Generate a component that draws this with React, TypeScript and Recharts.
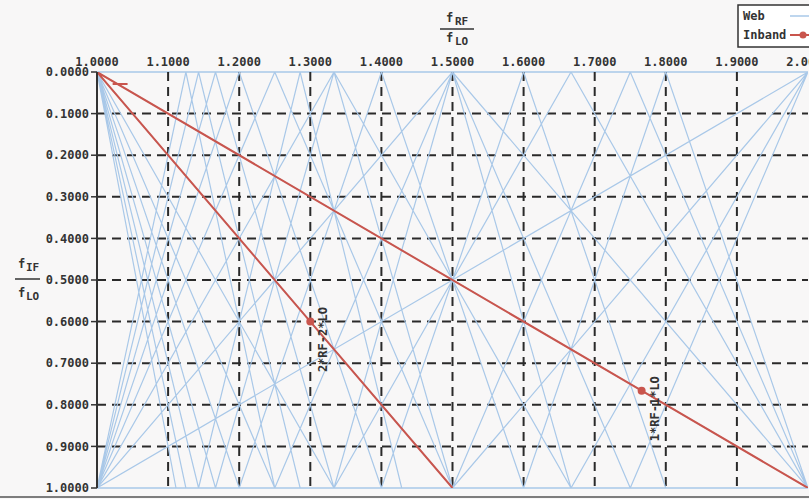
import { LineChart, Line, XAxis, YAxis, ReferenceLine } from 'recharts'

// f_RF / f_LO ticks and f_IF / f_LO ticks
const xTicks = [1.0, 1.1, 1.2, 1.3, 1.4, 1.5, 1.6, 1.7, 1.8, 1.9, 2.0]
const yTicks = [0, 0.1, 0.2, 0.3, 0.4, 0.5, 0.6, 0.7, 0.8, 0.9, 1.0]

// spur orders drawn in the web: |m*RF - n*LO| = IF
const rfOrders = [1, 2, 3, 4, 5, 6, 7, 8, 9]
const loOrders = [1, 2, 3, 4, 5, 6, 7, 8, 9]

// inband spur segments (x = RF/LO, y = IF/LO)
const inbandSegments = [
  [{ x: 1.0, y: 0 }, { x: 1.766, y: 0.766, label: '1*RF-1*LO' }, { x: 2.0, y: 1.0 }],
  [{ x: 1.0, y: 0 }, { x: 1.3, y: 0.6, label: '2*RF-2*LO' }, { x: 1.5, y: 1.0 }],
  [{ x: 1.022, y: 0.029 }, { x: 1.043, y: 0.029 }],
]

type Pt = { x: number; y: number | null; label?: string }

const webData: Pt[] = []
rfOrders.forEach(m => {
  loOrders.forEach(n => {
    ;[1, -1].forEach(s => {
      const x0 = s === 1 ? n / m : (n - 1) / m
      const x1 = s === 1 ? (n + 1) / m : n / m
      const a = Math.max(x0, 1)
      const b = Math.min(x1, 2)
      if (b > a + 1e-9) {
        webData.push({ x: a, y: s * (m * a - n) })
        webData.push({ x: b, y: s * (m * b - n) })
        webData.push({ x: b, y: null })
      }
    })
  })
})

const inbandData: Pt[] = []
inbandSegments.forEach(seg => {
  seg.forEach(p => inbandData.push(p))
  inbandData.push({ x: seg[seg.length - 1].x, y: null })
})

const font = '"DejaVu Sans Mono", monospace'
const tickStyle = { fontFamily: font, fontSize: 12, fontWeight: 700, fill: '#333' }
const web = '#a9c8e8'
const red = '#c9554d'

const InbandDot = (props: any) => {
  const { cx, cy, payload, index } = props
  if (!payload || !payload.label) return <g key={index} />
  return (
    <g key={index}>
      <circle cx={cx} cy={cy} r={4} fill={red} />
      <text
        x={cx + 13}
        y={cy + 18}
        transform={`rotate(-90 ${cx + 13} ${cy + 18})`}
        textAnchor="middle"
        dominantBaseline="central"
        fontFamily={font}
        fontSize={12}
        fontWeight={700}
        fill="#333"
      >
        {payload.label}
      </text>
    </g>
  )
}

export default function App() {
  return (
    <div style={{ position: 'absolute', left: 0, top: 0, width: 809, height: 499, overflow: 'hidden', background: '#f8f7f7' }}>
      <LineChart width={830} height={499} margin={{ top: 42, right: 22, bottom: 11, left: 37 }}>
        <XAxis
          type="number"
          dataKey="x"
          orientation="top"
          domain={[1, 2]}
          ticks={xTicks}
          height={30}
          axisLine={false}
          tickLine={false}
          tickSize={4}
          tick={tickStyle}
          tickFormatter={(v: number) => v.toFixed(4)}
          allowDataOverflow
        />
        <YAxis
          type="number"
          domain={[0, 1]}
          reversed
          ticks={yTicks}
          width={60}
          axisLine={{ stroke: '#333', strokeWidth: 2 }}
          tickLine={{ stroke: '#333', strokeWidth: 1.5 }}
          tick={tickStyle}
          tickFormatter={(v: number) => v.toFixed(4)}
          allowDataOverflow
        />
        <ReferenceLine y={0} stroke={web} strokeWidth={1.5} />
        <ReferenceLine y={1} stroke={web} strokeWidth={1.5} />
        {xTicks.slice(1, -1).map(v => (
          <ReferenceLine key={'x' + v} x={v} stroke="#2a2a2a" strokeWidth={2} strokeDasharray="9 6" />
        ))}
        {yTicks.slice(1, -1).map(v => (
          <ReferenceLine key={'y' + v} y={v} stroke="#2a2a2a" strokeWidth={2} strokeDasharray="9 6" />
        ))}
        <Line
          data={webData}
          dataKey="y"
          stroke={web}
          strokeWidth={1.2}
          dot={false}
          activeDot={false}
          connectNulls={false}
          isAnimationActive={false}
        />
        <Line
          data={inbandData}
          dataKey="y"
          stroke={red}
          strokeWidth={2}
          dot={InbandDot}
          activeDot={false}
          connectNulls={false}
          isAnimationActive={false}
        />
      </LineChart>
      <svg width={809} height={499} style={{ position: 'absolute', left: 0, top: 0, pointerEvents: 'none' }}>
        <g fontFamily={font} fontWeight={700} fill="#333">
          <text x={446} y={22} fontSize={12}>f</text>
          <text x={455} y={25} fontSize={11}>RF</text>
          <line x1={440} x2={474} y1={29} y2={29} stroke="#333" strokeWidth={1.5} />
          <text x={446} y={42} fontSize={12}>f</text>
          <text x={455} y={45} fontSize={11}>LO</text>
          <text x={18} y={268} fontSize={12}>f</text>
          <text x={26} y={271} fontSize={11}>IF</text>
          <line x1={15} x2={40} y1={279} y2={279} stroke="#333" strokeWidth={1.5} />
          <text x={18} y={297} fontSize={12}>f</text>
          <text x={26} y={300} fontSize={11}>LO</text>
        </g>
        <rect x={738} y={5} width={90} height={42} fill="#fff" stroke="#333" strokeWidth={1.5} />
        <g fontFamily={font} fontWeight={700} fontSize={12} fill="#333">
          <text x={743} y={20}>Web</text>
          <text x={743} y={39}>Inband</text>
        </g>
        <line x1={790} x2={812} y1={16} y2={16} stroke={web} strokeWidth={1.5} />
        <line x1={790} x2={812} y1={35} y2={35} stroke={red} strokeWidth={2} />
        <circle cx={803} cy={35} r={3.5} fill={red} />
        <line x1={0} x2={809} y1={497} y2={497} stroke="#555" strokeWidth={1.5} />
      </svg>
    </div>
  )
}
